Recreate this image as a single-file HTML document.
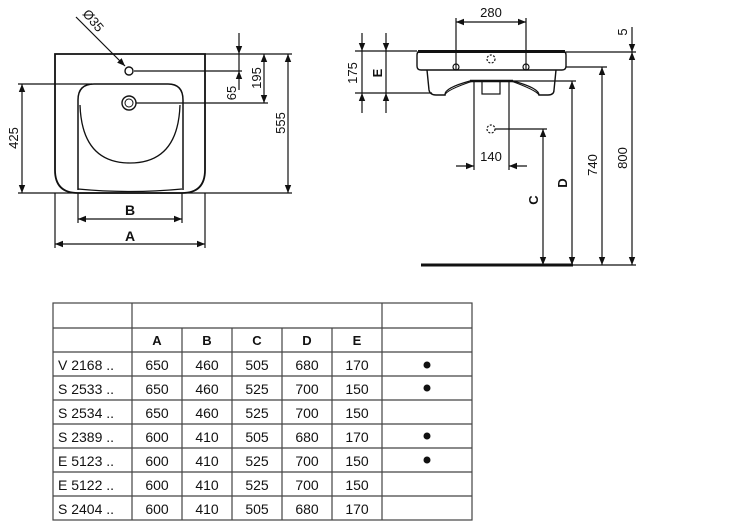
<!DOCTYPE html>
<html><head><meta charset="utf-8"><style>
html,body{margin:0;padding:0;background:#fff;}
svg{display:block;}
text{font-family:"Liberation Sans",Arial,sans-serif;fill:#111;}
</style></head><body>
<svg width="733" height="529" viewBox="0 0 733 529" xmlns="http://www.w3.org/2000/svg">
<defs>
<marker id="a" viewBox="0 0 10 10" refX="10" refY="5" markerWidth="8" markerHeight="8" orient="auto-start-reverse" markerUnits="userSpaceOnUse"><path d="M0,1 L10,5 L0,9 z" fill="#111"/></marker>
</defs>
<g stroke="#111" stroke-width="1.2" fill="none">
<!-- LEFT VIEW -->
<path d="M55,54 H205 V170 Q205,193 182,193 H78 Q55,193 55,170 Z" stroke-width="1.8"/>
<path d="M78,190 V100 Q78,84 94,84 H168 Q183,84 183,100 V190" stroke-width="1.5"/>
<path d="M80,105 Q82,163 130,163 Q178,163 180,105" stroke-width="1.3"/>
<path d="M78,189 Q130,194 182,189" stroke-width="1.3"/>
<circle cx="129" cy="71" r="4" stroke-width="1.4"/>
<circle cx="129" cy="103" r="7" stroke-width="1.4"/>
<circle cx="129" cy="103" r="4" stroke-width="1"/>
<line x1="205" y1="54" x2="292" y2="54"/>
<line x1="134" y1="71" x2="242" y2="71"/>
<line x1="136" y1="103" x2="268" y2="103"/>
<line x1="18" y1="84" x2="92" y2="84"/>
<line x1="18" y1="193" x2="292" y2="193"/>
<line x1="22" y1="84" x2="22" y2="193" marker-start="url(#a)" marker-end="url(#a)"/>
<line x1="288" y1="54" x2="288" y2="193" marker-start="url(#a)" marker-end="url(#a)"/>
<line x1="264" y1="54" x2="264" y2="103" marker-start="url(#a)" marker-end="url(#a)"/>
<line x1="239" y1="33" x2="239" y2="54" marker-end="url(#a)"/>
<line x1="239" y1="54" x2="239" y2="71"/>
<line x1="239" y1="90" x2="239" y2="71" marker-end="url(#a)"/>
<line x1="78" y1="193" x2="78" y2="223"/>
<line x1="182" y1="193" x2="182" y2="223"/>
<line x1="55" y1="193" x2="55" y2="248"/>
<line x1="205" y1="193" x2="205" y2="248"/>
<line x1="78" y1="219" x2="182" y2="219" marker-start="url(#a)" marker-end="url(#a)"/>
<line x1="55" y1="244" x2="205" y2="244" marker-start="url(#a)" marker-end="url(#a)"/>
<line x1="76" y1="17" x2="125" y2="66" marker-end="url(#a)"/>
<!-- RIGHT VIEW -->
<path d="M421,51 H562 Q566,51 566,55 V66 Q566,70 562,70 H421 Q417,70 417,66 V55 Q417,51 421,51 Z" stroke-width="1.4"/>
<line x1="418" y1="51.5" x2="565" y2="51.5" stroke-width="3"/>
<path d="M427,70 L429,90 Q430,95 436,95 H445 Q444,88 470,81 H513 Q539,88 539,95 H548 Q554,95 554,90 L556,70" stroke-width="1.4"/>
<path d="M445,95 Q446,90 473,81 M539,95 Q536,90 511,81" stroke-width="1"/>
<line x1="470" y1="81" x2="513" y2="81" stroke-width="2.5"/>
<rect x="482" y="81" width="18" height="13" stroke-width="1.2"/>
<circle cx="491" cy="59" r="4" stroke-dasharray="2 1.5"/>
<circle cx="456" cy="67" r="3"/>
<circle cx="526" cy="67" r="3"/>
<line x1="355" y1="51" x2="417" y2="51"/>
<line x1="355" y1="93" x2="432" y2="93"/>
<line x1="566" y1="52" x2="636" y2="52"/>
<line x1="566" y1="67" x2="607" y2="67"/>
<line x1="500" y1="81" x2="576" y2="81"/>
<line x1="456" y1="18" x2="456" y2="70"/>
<line x1="526" y1="18" x2="526" y2="70"/>
<line x1="456" y1="22" x2="526" y2="22" marker-start="url(#a)" marker-end="url(#a)"/>
<line x1="362" y1="33" x2="362" y2="51" marker-end="url(#a)"/>
<line x1="362" y1="51" x2="362" y2="93"/>
<line x1="362" y1="113" x2="362" y2="93" marker-end="url(#a)"/>
<line x1="386" y1="33" x2="386" y2="51" marker-end="url(#a)"/>
<line x1="386" y1="51" x2="386" y2="93"/>
<line x1="386" y1="113" x2="386" y2="93" marker-end="url(#a)"/>
<line x1="632" y1="27" x2="632" y2="52" marker-end="url(#a)"/>
<line x1="632" y1="52" x2="632" y2="265" marker-start="url(#a)" marker-end="url(#a)"/>
<line x1="602" y1="67" x2="602" y2="265" marker-start="url(#a)" marker-end="url(#a)"/>
<line x1="572" y1="81" x2="572" y2="265" marker-start="url(#a)" marker-end="url(#a)"/>
<line x1="543" y1="129" x2="543" y2="265" marker-start="url(#a)" marker-end="url(#a)"/>
<circle cx="491" cy="129" r="4" stroke-dasharray="2 1.5"/>
<line x1="495" y1="129" x2="547" y2="129"/>
<line x1="474" y1="81" x2="474" y2="170"/>
<line x1="509" y1="81" x2="509" y2="170"/>
<line x1="456" y1="166" x2="474" y2="166" marker-end="url(#a)"/>
<line x1="527" y1="166" x2="509" y2="166" marker-end="url(#a)"/>
<line x1="421" y1="265" x2="573" y2="265" stroke-width="3"/>
<line x1="573" y1="265" x2="636" y2="265"/>
<!-- TABLE -->
<g stroke="#444" stroke-width="1.2">
<rect x="53" y="303" width="419" height="217"/>
<line x1="132" y1="303" x2="132" y2="520"/>
<line x1="382" y1="303" x2="382" y2="520"/>
<line x1="182" y1="328" x2="182" y2="520"/>
<line x1="232" y1="328" x2="232" y2="520"/>
<line x1="282" y1="328" x2="282" y2="520"/>
<line x1="332" y1="328" x2="332" y2="520"/>
<line x1="53" y1="328" x2="472" y2="328"/>
<line x1="53" y1="352" x2="472" y2="352"/>
<line x1="53" y1="376" x2="472" y2="376"/>
<line x1="53" y1="400" x2="472" y2="400"/>
<line x1="53" y1="424" x2="472" y2="424"/>
<line x1="53" y1="448" x2="472" y2="448"/>
<line x1="53" y1="472" x2="472" y2="472"/>
<line x1="53" y1="496" x2="472" y2="496"/>
</g>
</g>
<g font-size="13">
<text x="130" y="215" text-anchor="middle" font-weight="bold" font-size="14">B</text>
<text x="130" y="241" text-anchor="middle" font-weight="bold" font-size="14">A</text>
<text transform="translate(18,138) rotate(-90)" text-anchor="middle">425</text>
<text transform="translate(285,123) rotate(-90)" text-anchor="middle">555</text>
<text transform="translate(261,78) rotate(-90)" text-anchor="middle">195</text>
<text transform="translate(236,93) rotate(-90)" text-anchor="middle">65</text>
<text transform="translate(82,14) rotate(50)" text-anchor="start">Ø35</text>
<text x="491" y="17" text-anchor="middle">280</text>
<text x="491" y="161" text-anchor="middle">140</text>
<text transform="translate(357,73) rotate(-90)" text-anchor="middle">175</text>
<text transform="translate(382,73) rotate(-90)" text-anchor="middle" font-weight="bold">E</text>
<text transform="translate(538,200) rotate(-90)" text-anchor="middle" font-weight="bold">C</text>
<text transform="translate(567,183) rotate(-90)" text-anchor="middle" font-weight="bold">D</text>
<text transform="translate(597,165) rotate(-90)" text-anchor="middle">740</text>
<text transform="translate(627,158) rotate(-90)" text-anchor="middle">800</text>
<text transform="translate(627,32) rotate(-90)" text-anchor="middle">5</text>
</g>
<g font-size="14" text-anchor="middle">
<g font-weight="bold" font-size="13"><text x="157" y="345">A</text><text x="207" y="345">B</text><text x="257" y="345">C</text><text x="307" y="345">D</text><text x="357" y="345">E</text></g>
<g text-anchor="start"><text x="58" y="370">V 2168 ..</text><text x="58" y="394">S 2533 ..</text><text x="58" y="418">S 2534 ..</text><text x="58" y="442">S 2389 ..</text><text x="58" y="466">E 5123 ..</text><text x="58" y="490">E 5122 ..</text><text x="58" y="514">S 2404 ..</text></g>
<text x="157" y="370">650</text><text x="207" y="370">460</text><text x="257" y="370">505</text><text x="307" y="370">680</text><text x="357" y="370">170</text>
<text x="157" y="394">650</text><text x="207" y="394">460</text><text x="257" y="394">525</text><text x="307" y="394">700</text><text x="357" y="394">150</text>
<text x="157" y="418">650</text><text x="207" y="418">460</text><text x="257" y="418">525</text><text x="307" y="418">700</text><text x="357" y="418">150</text>
<text x="157" y="442">600</text><text x="207" y="442">410</text><text x="257" y="442">505</text><text x="307" y="442">680</text><text x="357" y="442">170</text>
<text x="157" y="466">600</text><text x="207" y="466">410</text><text x="257" y="466">525</text><text x="307" y="466">700</text><text x="357" y="466">150</text>
<text x="157" y="490">600</text><text x="207" y="490">410</text><text x="257" y="490">525</text><text x="307" y="490">700</text><text x="357" y="490">150</text>
<text x="157" y="514">600</text><text x="207" y="514">410</text><text x="257" y="514">505</text><text x="307" y="514">680</text><text x="357" y="514">170</text>
</g>
<g fill="#111"><circle cx="427" cy="365" r="3.5"/><circle cx="427" cy="388" r="3.5"/><circle cx="427" cy="436" r="3.5"/><circle cx="427" cy="460" r="3.5"/></g>
</svg>
</body></html>
